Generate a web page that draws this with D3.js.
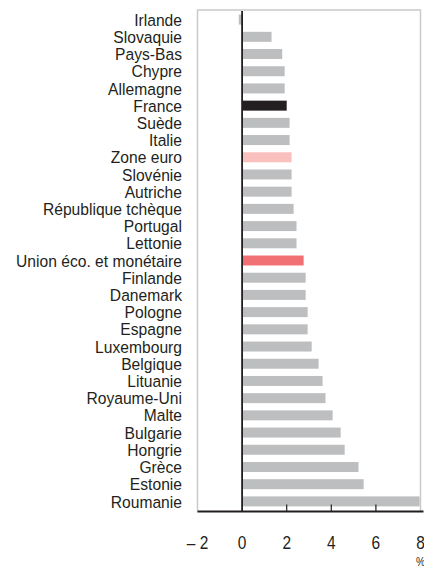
<!DOCTYPE html>
<html>
<head>
<meta charset="utf-8">
<script src="https://cdn.jsdelivr.net/npm/d3@7"></script>
<style>
  html, body { margin: 0; padding: 0; background: #fff; }
  svg { display: block; font-family: "Liberation Sans", Arial, sans-serif; }
  .lbl { font-size: 17px; fill: #231f20; }
  .tick-lbl { font-size: 18px; fill: #231f20; }
</style>
</head>
<body>
<svg id="chart" width="424" height="567"></svg>
<script>
/* Horizontal bar chart — countries ranked by value (%). */

const countries = [
  'Irlande', 'Slovaquie', 'Pays-Bas', 'Chypre', 'Allemagne', 'France', 'Suède',
  'Italie', 'Zone euro', 'Slovénie', 'Autriche', 'République tchèque', 'Portugal',
  'Lettonie', 'Union éco. et monétaire', 'Finlande', 'Danemark', 'Pologne',
  'Espagne', 'Luxembourg', 'Belgique', 'Lituanie', 'Royaume-Uni', 'Malte',
  'Bulgarie', 'Hongrie', 'Grèce', 'Estonie', 'Roumanie'
];
const values = [
  -0.15, 1.32, 1.8, 1.91, 1.91, 2.0, 2.13,
  2.13, 2.22, 2.22, 2.22, 2.31, 2.44,
  2.44, 2.76, 2.85, 2.85, 2.94,
  2.94, 3.12, 3.43, 3.61, 3.74, 4.06,
  4.42, 4.6, 5.22, 5.45, 7.96
];
const xTicks      = [-2, 0, 2, 4, 6, 8];
const xTickLabels = ['\u2013 2', '0', '2', '4', '6', '8'];
const unitLabel   = '%';

const highlight = {
  'France': '#231f20',
  'Zone euro': '#f9c0bd',
  'Union éco. et monétaire': '#f07073'
};
const BAR_GREY = '#bdbec0';
const SQUEEZE = 0.92;   // fake a condensed face

const data = countries.map((c, i) => ({ name: c, value: values[i] }));

const svg = d3.select('#chart');

const x = d3.scaleLinear().domain([-2, 8]).range([197.5, 420.5]);
const y = d3.scaleBand().domain(countries).range([11, 510]).paddingInner(0.42).paddingOuter(0.21);

// frame (top, left, right)
const frameTop = 10, frameBottom = 511.5;
svg.append('path')
  .attr('d', `M${x(-2)},${frameBottom} V${frameTop} H${x(8)} V${frameBottom}`)
  .attr('fill', 'none')
  .attr('stroke', '#c9c9c9')
  .attr('stroke-width', 1.5);

// bars
svg.append('g').selectAll('rect')
  .data(data)
  .enter().append('rect')
  .attr('x', d => x(Math.min(0, d.value)))
  .attr('width', d => Math.abs(x(d.value) - x(0)))
  .attr('y', d => y(d.name))
  .attr('height', y.bandwidth())
  .attr('fill', d => highlight[d.name] || BAR_GREY);

// zero line
svg.append('line')
  .attr('x1', x(0)).attr('x2', x(0))
  .attr('y1', frameTop + 1).attr('y2', frameBottom)
  .attr('stroke', '#231f20')
  .attr('stroke-width', 1.8);

// category labels
svg.append('g').selectAll('text')
  .data(data)
  .enter().append('text')
  .attr('class', 'lbl')
  .attr('transform', d => `translate(182,${y(d.name) + y.bandwidth() / 2}) scale(${SQUEEZE},1)`)
  .attr('dy', '0.36em')
  .attr('text-anchor', 'end')
  .text(d => d.name);

// x axis
const axis = svg.append('g').attr('transform', `translate(0,${frameBottom})`);
axis.append('line')
  .attr('x1', x(-2)).attr('x2', 423.5)
  .attr('stroke', '#231f20')
  .attr('stroke-width', 1.8);
axis.selectAll('line.tk')
  .data(xTicks.filter(t => t > 0 && t < 8))
  .enter().append('line')
  .attr('class', 'tk')
  .attr('x1', d => x(d)).attr('x2', d => x(d))
  .attr('y1', -7).attr('y2', 0)
  .attr('stroke', '#231f20')
  .attr('stroke-width', 1.2);
axis.selectAll('text.tick-lbl')
  .data(xTicks)
  .enter().append('text')
  .attr('class', 'tick-lbl')
  .attr('transform', d => `translate(${x(d)},37) scale(0.86,1)`)
  .attr('text-anchor', 'middle')
  .text((d, i) => xTickLabels[i]);
axis.append('text')
  .attr('class', 'tick-lbl')
  .attr('transform', `translate(${x(8)},54) scale(0.86,1)`)
  .attr('text-anchor', 'middle')
  .style('font-size', '12px')
  .text(unitLabel);
</script>
</body>
</html>
